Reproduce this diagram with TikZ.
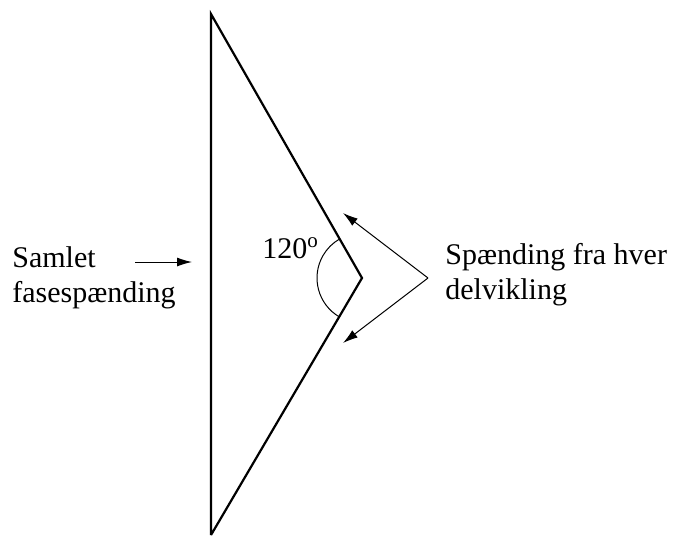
\documentclass[tikz,border=0pt]{standalone}
\usepackage{fontspec}
\setmainfont{Liberation Serif}
\usetikzlibrary{arrows.meta}

\begin{document}
\begin{tikzpicture}[
	x=0.5pt, y=-0.5pt,
	winding/.style={ line width=1.1pt, line join=miter },
	pointer/.style={ line width=0.5pt, -{Latex[length=7.5pt,width=4.5pt]} },
	label/.style={ inner sep=0pt, anchor=base west, align=left,
		font=\fontsize{15}{17.5}\selectfont }
]
\useasboundingbox (0,0) rectangle (681,537);

\coordinate (top) at (211,14);
\coordinate (bend) at (362,278);
\coordinate (bot) at (211,535);
\coordinate (apex) at (428,278);
\coordinate (tipu) at (343,213);
\coordinate (tipl) at (343,343);
\coordinate (start) at (135,262);
\coordinate (end) at (192,262);

\draw[winding] (bot) to (top) to (bend) to (bot);
\draw[line width=0.5pt] (bend) ++(120:45) arc[start angle=120, end angle=240, radius=45];
\draw[pointer] (apex) to (tipu);
\draw[pointer] (apex) to (tipl);
\draw[pointer] (start) to (end);

% multi-line labels sit on the baseline of their last line
\node[label] at (12,302) (samlet) {Samlet\\fasespænding};
\node[label] at (445,299) (delv) {Spænding fra hver\\delvikling};
\node[label] at (262,258) (angle) {120\textsuperscript{o}};

\end{tikzpicture}
\end{document}
